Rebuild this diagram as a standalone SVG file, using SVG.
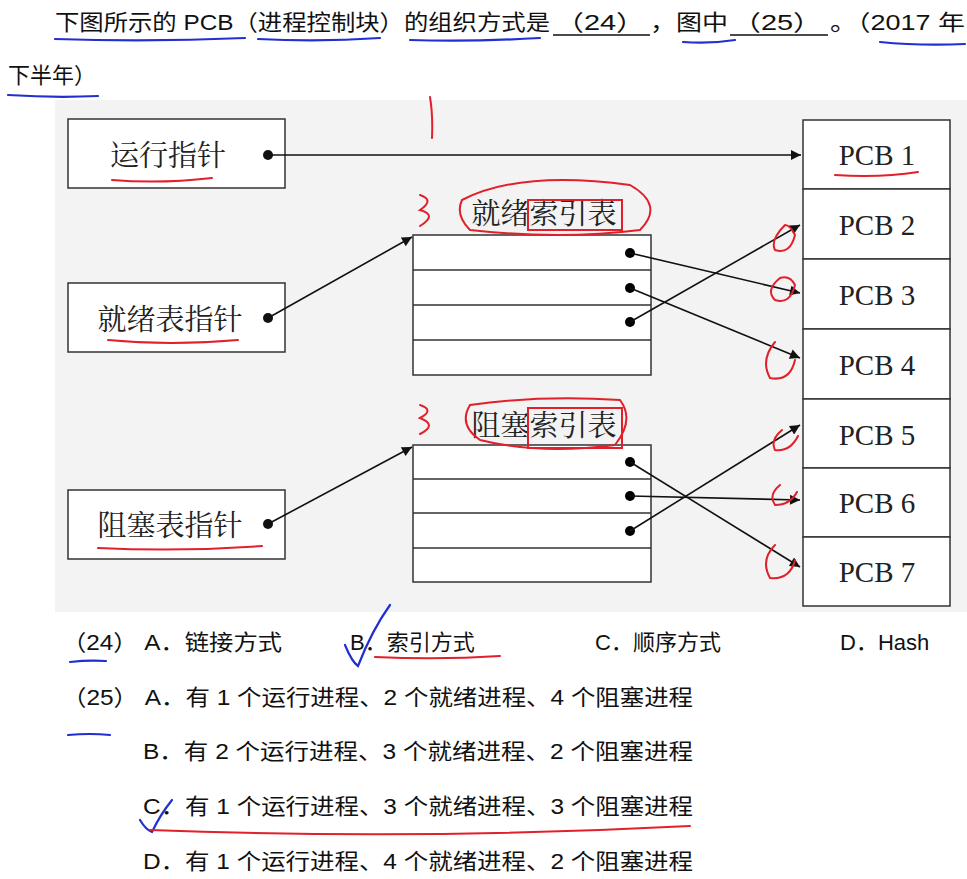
<svg xmlns="http://www.w3.org/2000/svg" width="967" height="879" viewBox="0 0 967 879">
<defs>
<marker id="ah" viewBox="0 0 10 10" refX="10" refY="5" markerWidth="14" markerHeight="10" orient="auto" markerUnits="userSpaceOnUse"><path d="M0,0 L10,5 L0,10 z" fill="#111"/></marker>
<style>
.box{fill:#fff;stroke:#333;stroke-width:1.5}
.dl{font-family:"Liberation Serif","Noto Serif CJK SC","Noto Sans CJK SC",serif;font-size:29px;fill:#222}
.tx{font-family:"Liberation Sans","Noto Sans CJK SC",sans-serif;font-size:22px;fill:#111}
.ln{stroke:#111;stroke-width:1.6;fill:none;marker-end:url(#ah)}
.red{stroke:#e0202a;stroke-width:2;fill:none;stroke-linecap:round}
.blue{stroke:#2030d0;stroke-width:2.2;fill:none;stroke-linecap:round}
.ul{stroke:#111;stroke-width:1.5}
</style>
</defs>
<rect width="967" height="879" fill="#fff"/>
<rect x="55" y="100" width="912" height="512" fill="#f3f3f3"/>
<text class="tx" x="55" y="30" textLength="495" lengthAdjust="spacingAndGlyphs">下图所示的 PCB（进程控制块）的组织方式是</text>
<text class="tx" x="555" y="30" textLength="90" lengthAdjust="spacingAndGlyphs">（24）</text>
<text class="tx" x="650" y="30" textLength="78" lengthAdjust="spacingAndGlyphs">，图中</text>
<text class="tx" x="732" y="30" textLength="90" lengthAdjust="spacingAndGlyphs">（25）</text>
<text class="tx" x="830" y="30" textLength="135" lengthAdjust="spacingAndGlyphs">。（2017 年</text>
<path class="ul" d="M553 35H650M730 35H828"/>
<text class="tx" x="8" y="83">下半年）</text>
<g id="run"><rect class="box" x="68" y="119" width="217" height="69"/><text class="dl" x="168" y="166" text-anchor="middle">运行指针</text><circle cx="268" cy="155" r="5" fill="#111"/></g>
<g id="ready"><rect class="box" x="68" y="283" width="217" height="69"/><text class="dl" x="170" y="330" text-anchor="middle">就绪表指针</text><circle cx="268" cy="318" r="5" fill="#111"/></g>
<g id="block"><rect class="box" x="68" y="490" width="217" height="69"/><text class="dl" x="170" y="536" text-anchor="middle">阻塞表指针</text><circle cx="268" cy="524" r="5" fill="#111"/></g>
<g id="readyIdx"><text class="dl" x="544" y="224" text-anchor="middle">就绪索引表</text>
<rect class="box" x="413" y="235" width="238" height="140"/><path d="M413 270H651M413 305H651M413 340H651" stroke="#333" stroke-width="1.5"/>
<circle cx="630" cy="253" r="5"/><circle cx="630" cy="288" r="5"/><circle cx="630" cy="322" r="5"/></g>
<g id="blockIdx"><text class="dl" x="544" y="436" text-anchor="middle">阻塞索引表</text>
<rect class="box" x="413" y="445" width="238" height="137"/><path d="M413 479H651M413 513H651M413 548H651" stroke="#333" stroke-width="1.5"/>
<circle cx="630" cy="462" r="5"/><circle cx="630" cy="496" r="5"/><circle cx="630" cy="531" r="5"/></g>
<g id="pcbs">
<rect class="box" x="803" y="120" width="147" height="69"/><text class="dl" x="877" y="165" text-anchor="middle">PCB 1</text>
<rect class="box" x="803" y="189" width="147" height="70"/><text class="dl" x="877" y="235" text-anchor="middle">PCB 2</text>
<rect class="box" x="803" y="259" width="147" height="70"/><text class="dl" x="877" y="305" text-anchor="middle">PCB 3</text>
<rect class="box" x="803" y="329" width="147" height="70"/><text class="dl" x="877" y="375" text-anchor="middle">PCB 4</text>
<rect class="box" x="803" y="399" width="147" height="69"/><text class="dl" x="877" y="445" text-anchor="middle">PCB 5</text>
<rect class="box" x="803" y="468" width="147" height="69"/><text class="dl" x="877" y="513" text-anchor="middle">PCB 6</text>
<rect class="box" x="803" y="537" width="147" height="69"/><text class="dl" x="877" y="582" text-anchor="middle">PCB 7</text>
</g>
<g id="connectors">
<path class="ln" d="M268 155H801"/>
<path class="ln" d="M268 318L412 237"/>
<path class="ln" d="M268 524L412 447"/>
<path class="ln" d="M630 253L800 293"/>
<path class="ln" d="M630 288L800 358"/>
<path class="ln" d="M630 322L800 225"/>
<path class="ln" d="M630 462L800 567"/>
<path class="ln" d="M630 496L800 500"/>
<path class="ln" d="M630 531L800 425"/>
</g>
<g id="options">
<text class="tx" x="62" y="650" textLength="220" lengthAdjust="spacingAndGlyphs">（24） A．链接方式</text>
<text class="tx" x="350" y="650">B．索引方式</text>
<text class="tx" x="595" y="650">C．顺序方式</text>
<text class="tx" x="840" y="650">D．Hash</text>
<text class="tx" x="62" y="705" textLength="631" lengthAdjust="spacingAndGlyphs">（25） A．有 1 个运行进程、2 个就绪进程、4 个阻塞进程</text>
<text class="tx" x="143" y="759" textLength="550" lengthAdjust="spacingAndGlyphs">B．有 2 个运行进程、3 个就绪进程、2 个阻塞进程</text>
<text class="tx" x="143" y="814" textLength="550" lengthAdjust="spacingAndGlyphs">C．有 1 个运行进程、3 个就绪进程、3 个阻塞进程</text>
<text class="tx" x="143" y="869" textLength="550" lengthAdjust="spacingAndGlyphs">D．有 1 个运行进程、4 个就绪进程、2 个阻塞进程</text>
</g>
<g id="annot">
<path class="blue" d="M55 39Q150 42 245 38M258 39Q320 42 380 38M410 40Q470 42 540 38M683 42Q710 44 735 40M880 42Q920 46 965 44M8 95Q55 98 98 96"/>
<path class="blue" d="M70 662Q88 660 106 661M68 735Q90 733 110 735M345 645Q352 662 358 666Q372 630 390 605M140 820Q146 830 152 832Q160 815 172 800"/>
<path class="red" d="M112 180Q160 184 212 178M108 340Q170 346 238 340M98 548Q180 552 262 546M835 175Q880 178 918 172M375 657Q440 660 500 656M150 830Q420 840 690 826"/>
<path class="red" d="M430 97Q433 115 432 138M420 195Q435 200 420 210Q438 215 420 226M420 405Q435 410 420 418Q438 425 420 434"/>
<path class="red" d="M462 200Q520 170 630 185Q665 205 640 230Q560 240 470 230Q455 215 462 200Z"/>
<path class="red" d="M470 405Q540 395 620 400Q635 420 615 445Q540 455 480 440Q458 425 470 405Z"/>
<path class="red" d="M528 200H622V230H528ZM528 408H622V448H528Z"/>
<path class="red" d="M785 225Q770 240 775 250Q790 255 795 235Q790 225 785 225M780 278Q765 290 775 300Q790 305 795 285Q790 275 780 278M775 342Q760 360 770 378Q790 382 795 360M782 430Q770 440 775 450Q790 452 798 436M780 485Q768 495 775 505Q790 505 797 492M775 545Q760 560 770 578Q790 580 795 560"/>
</g>
</svg>
